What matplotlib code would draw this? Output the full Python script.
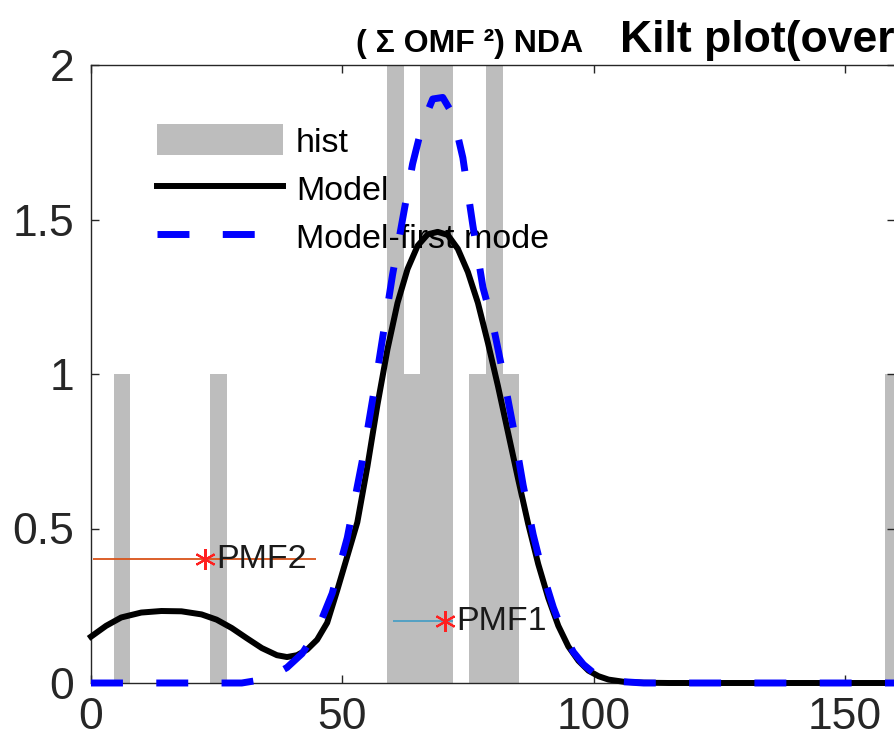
import matplotlib
matplotlib.use("Agg")
import matplotlib.pyplot as plt

plt.rcParams["font.family"] = ["Liberation Sans", "DejaVu Sans"]

# histogram bars: bin centres and counts
hist_centers = [6.2, 25.4, 60.55, 63.85, 67.15, 70.4, 76.95, 80.25, 83.55, 159.65]
hist_counts = [1, 1, 2, 1, 2, 2, 1, 2, 1, 1]
hist_width = 3.3

# "Model" curve
model_x = [0, 3, 6, 10, 14, 18, 22, 25, 28, 31, 34, 37, 39, 41, 43, 45, 47, 49,
           51, 53, 55, 57, 59, 61, 63, 65, 67, 69, 71, 73, 75, 77, 79, 81, 83,
           85, 87, 89, 91, 93, 95, 97, 99, 101, 103, 106, 110, 115, 160]
model_y = [0.150, 0.185, 0.212, 0.228, 0.233, 0.232, 0.222, 0.205, 0.178,
           0.145, 0.113, 0.090, 0.084, 0.090, 0.108, 0.140, 0.195, 0.300,
           0.410, 0.520, 0.700, 0.900, 1.080, 1.230, 1.340, 1.415, 1.452,
           1.460, 1.450, 1.405, 1.330, 1.230, 1.100, 0.960, 0.810, 0.660,
           0.515, 0.385, 0.275, 0.185, 0.118, 0.072, 0.040, 0.022, 0.011,
           0.004, 0.001, 0.0, 0.0]

# "Model-first mode" curve
first_x = [0, 30, 33, 36, 39, 42, 45, 48, 51, 54, 57, 60, 62, 64, 66, 68, 70,
           72, 74, 76, 78, 80, 82, 84, 86, 88, 90, 92, 94, 96, 98, 100, 103,
           106, 110, 160]
first_y = [0.0, 0.0, 0.008, 0.022, 0.050, 0.095, 0.170, 0.290, 0.470, 0.720,
           1.010, 1.320, 1.500, 1.680, 1.810, 1.890, 1.895, 1.840, 1.700,
           1.480, 1.280, 1.160, 1.000, 0.830, 0.640, 0.480, 0.350, 0.245,
           0.160, 0.100, 0.060, 0.033, 0.012, 0.004, 0.0, 0.0]

# PMF markers with their horizontal ranges
pmf_labels = ["PMF1", "PMF2"]
pmf_x = [70.4, 22.7]
pmf_y = [0.2, 0.4]
pmf_lo = [60.1, 0.4]
pmf_hi = [72.0, 44.8]
pmf_colors = ["#4a9fc4", "#D95319"]

x_ticks = [0, 50, 100, 150]
y_ticks = [0, 0.5, 1, 1.5, 2]
y_ticklabels = ["0", "0.5", "1", "1.5", "2"]


def main() -> None:
    fig = plt.figure(figsize=(8.94, 7.48), dpi=100)
    ax = fig.add_axes([91 / 894, 65 / 748, 804 / 894, 618 / 748])

    h_bar = ax.bar(hist_centers, hist_counts, width=hist_width, color="#bdbdbd",
                   edgecolor="none", zorder=1, label="hist")
    h_model, = ax.plot(model_x, model_y, color="black", lw=4.3, zorder=3,
                       label="Model", clip_on=False)
    h_first, = ax.plot(first_x, first_y, color="#0000ff", lw=5, dashes=(4.6, 4.8),
                       zorder=4, label="Model-first mode", clip_on=False)

    for lab, x, y, lo, hi, c in zip(pmf_labels, pmf_x, pmf_y, pmf_lo, pmf_hi, pmf_colors):
        ax.hlines(y, lo, hi, color=c, lw=1.3, zorder=5)
        ax.plot([x], [y], marker=(6, 2, 0), color="#ff2020", ms=15, mew=1.5,
                linestyle="none", zorder=6)
        ax.annotate(lab, (x, y), xytext=(8, 0), textcoords="offset points",
                    va="center", ha="left", fontsize=24.5, color="#1a1a1a",
                    zorder=7)

    leg = ax.legend(handles=[h_bar, h_model, h_first],
                    loc="upper left", bbox_to_anchor=(0.082, 0.904),
                    frameon=False, fontsize=24.5, handlelength=3.7,
                    handleheight=1.03, labelspacing=0.41, handletextpad=0.38,
                    borderpad=0, borderaxespad=0)
    leg.set_zorder(2)

    ax.set_xlim(0, 160)
    ax.set_ylim(0, 2)
    ax.set_xticks(x_ticks)
    ax.set_yticks(y_ticks)
    ax.set_yticklabels(y_ticklabels)
    ax.tick_params(direction="in", top=True, right=True, length=6, width=1,
                   labelsize=32, colors="#262626")
    ax.tick_params(axis="x", pad=10)
    ax.tick_params(axis="y", pad=12)
    for sp in ax.spines.values():
        sp.set_linewidth(1)
        sp.set_color("#262626")

    base = 1 - 52 / 748
    fig.text(356 / 894, base, "( Σ OMF ²) NDA", fontsize=23,
             fontweight="bold", ha="left", va="baseline")
    fig.text(620 / 894, base, "Kilt plot(over", fontsize=32,
             fontweight="bold", ha="left", va="baseline")

    fig.savefig("out.png", dpi=100)


if __name__ == "__main__":
    main()
